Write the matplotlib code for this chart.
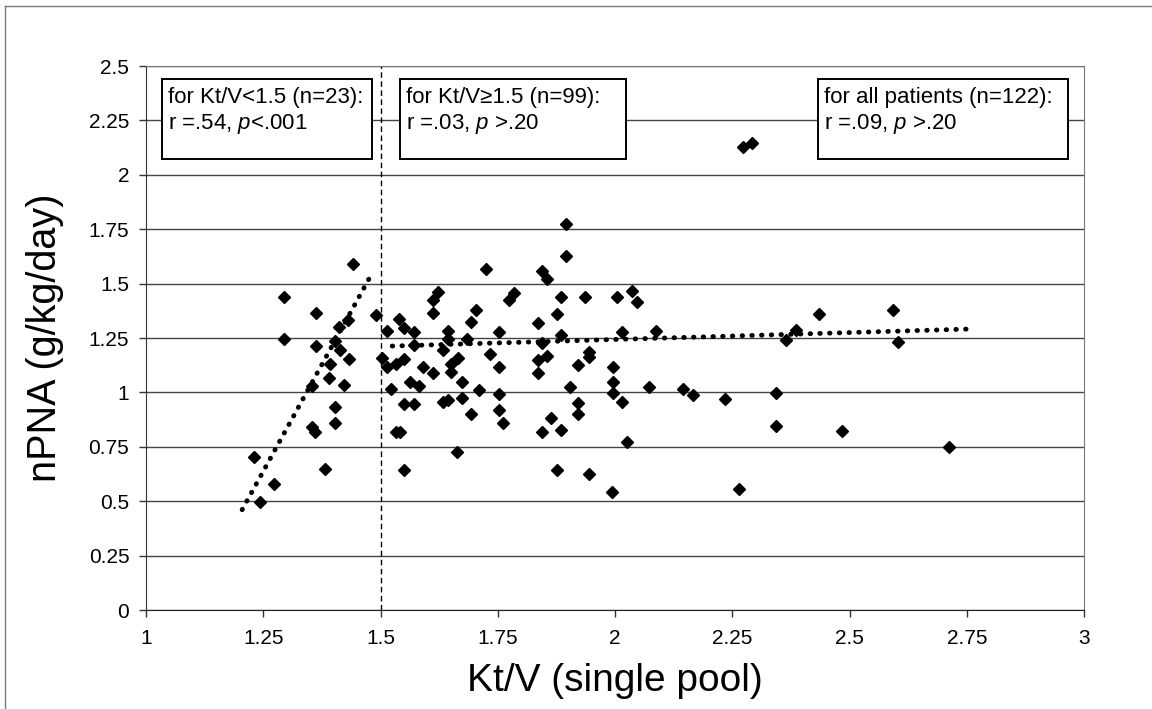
import numpy as np
import matplotlib
matplotlib.use('Agg')
import matplotlib.pyplot as plt
from matplotlib.patches import Rectangle

plt.rcParams['font.family'] = ['Liberation Sans', 'DejaVu Sans']
plt.rcParams['mathtext.fontset'] = 'custom'
plt.rcParams['mathtext.rm'] = 'Liberation Sans'
plt.rcParams['mathtext.it'] = 'Liberation Sans:italic'

# Kt/V < 1.5 group
ktv_low = [1.441, 1.295, 1.363, 1.490, 1.431, 1.412, 1.295, 1.403, 1.363, 1.414,
           1.433, 1.392, 1.391, 1.354, 1.422, 1.403, 1.403, 1.354, 1.361, 1.230,
           1.382, 1.273, 1.243]
npna_low = [1.590, 1.437, 1.364, 1.356, 1.333, 1.299, 1.244, 1.238, 1.213, 1.195,
            1.155, 1.130, 1.068, 1.031, 1.034, 0.934, 0.861, 0.842, 0.820, 0.705,
            0.647, 0.578, 0.496]

# Kt/V >= 1.5 group
ktv_high = [1.513, 1.539, 1.503, 1.513, 1.533, 1.522, 1.533, 1.542, 1.551, 1.663,
            1.876, 1.945, 1.724, 1.845, 1.854, 1.896, 1.623, 1.613, 1.785, 1.775,
            1.885, 1.613, 1.703, 1.876, 1.692, 1.835, 1.550, 1.572, 1.643, 1.753,
            1.885, 1.643, 1.684, 1.845, 1.572, 1.633, 1.734, 1.854, 1.550, 1.665,
            1.835, 1.650, 1.591, 1.753, 1.922, 1.650, 1.613, 1.835, 1.563, 1.673,
            1.583, 1.711, 1.904, 1.753, 1.673, 1.550, 1.572, 1.633, 1.643, 1.922,
            1.753, 1.692, 1.922, 1.762, 1.864, 1.845, 1.885, 1.896, 1.936, 2.005,
            2.036, 2.046, 2.014, 2.087, 1.945, 1.945, 1.995, 1.995, 2.073, 1.995,
            2.146, 2.166, 2.235, 2.014, 2.025, 2.434, 2.593, 2.386, 2.365, 2.603,
            2.343, 2.343, 2.485, 2.713, 2.265, 2.273, 2.292, 1.994]
npna_high = [1.284, 1.336, 1.157, 1.115, 1.129, 1.014, 0.820, 0.820, 0.643, 0.725,
             0.643, 0.625, 1.566, 1.558, 1.520, 1.627, 1.463, 1.425, 1.458, 1.425,
             1.437, 1.364, 1.379, 1.359, 1.325, 1.317, 1.296, 1.276, 1.284, 1.276,
             1.264, 1.244, 1.244, 1.229, 1.216, 1.195, 1.175, 1.167, 1.152, 1.157,
             1.149, 1.129, 1.115, 1.115, 1.124, 1.095, 1.088, 1.088, 1.046, 1.046,
             1.029, 1.011, 1.026, 0.993, 0.973, 0.947, 0.947, 0.954, 0.965, 0.950,
             0.919, 0.901, 0.901, 0.861, 0.881, 0.820, 0.827, 1.772, 1.437, 1.437,
             1.466, 1.417, 1.276, 1.282, 1.187, 1.164, 1.115, 1.048, 1.026, 0.996,
             1.014, 0.988, 0.968, 0.954, 0.770, 1.359, 1.379, 1.287, 1.241, 1.230,
             0.996, 0.847, 0.821, 0.748, 0.557, 2.130, 2.145, 0.540]

# trend lines
trend_low_x = [1.205, 1.478]
trend_low_y = [0.461, 1.532]
trend_high_x = [1.525, 2.751]
trend_high_y = [1.213, 1.291]

box_texts = [
    ("for Kt/V<1.5 (n=23):", "r =.54, $p$<.001"),
    ("for Kt/V\u22651.5 (n=99):", "r =.03, $p$ >.20"),
    ("for all patients (n=122):", "r =.09, $p$ >.20"),
]
box_x = [(1.034, 1.482), (1.541, 2.023), (2.433, 2.966)]

fig = plt.figure(figsize=(11.52, 7.09), dpi=100)
ax = fig.add_axes([146/1152, 99/709, 938/1152, 544/709])

# outer frame of the figure
fig.add_artist(plt.Line2D([5/1152, 5/1152], [0, 703/709], transform=fig.transFigure,
                          color='#777777', lw=1))
fig.add_artist(plt.Line2D([5/1152, 1], [703/709, 703/709], transform=fig.transFigure,
                          color='#777777', lw=1))

ax.set_xlim(1, 3)
ax.set_ylim(0, 2.5)
ax.set_xticks(np.arange(1, 3.01, 0.25))
ax.set_yticks(np.arange(0, 2.51, 0.25))
ax.set_xticklabels(['1', '1.25', '1.5', '1.75', '2', '2.25', '2.5', '2.75', '3'])
ax.set_yticklabels(['0', '0.25', '0.5', '0.75', '1', '1.25', '1.5', '1.75', '2', '2.25', '2.5'])
ax.tick_params(direction='out', length=5, width=1, labelsize=15, color='#333333')
ax.tick_params(axis='x', pad=9)
ax.tick_params(axis='y', pad=7)
ax.yaxis.grid(True, color='#444444', lw=1)
ax.set_axisbelow(True)
for s in ['top', 'right']:
    ax.spines[s].set_color('#777777')
ax.spines['left'].set_color('#333333')
ax.spines['bottom'].set_color('#222222')

ax.axvline(1.5, color='black', lw=1, ls=(0, (4, 2.5)), zorder=2)

ax.plot(trend_low_x, trend_low_y, color='black', lw=3.5, ls=(0, (0.1, 1.9)),
        dash_capstyle='round', zorder=3)
ax.plot(trend_high_x, trend_high_y, color='black', lw=3.5, ls=(0, (0.1, 1.9)),
        dash_capstyle='round', zorder=3)

ax.plot(ktv_low, npna_low, 'D', color='black', ms=5.8, zorder=4)
ax.plot(ktv_high, npna_high, 'D', color='black', ms=5.8, zorder=4)

for (x0, x1), (l1, l2) in zip(box_x, box_texts):
    ax.add_patch(Rectangle((x0, 2.073), x1 - x0, 2.44 - 2.073, facecolor='white',
                           edgecolor='black', lw=1.4, zorder=5))
    ax.text(x0 + 0.013, 2.353, l1, fontsize=16, va='center', ha='left', zorder=6)
    ax.text(x0 + 0.013, 2.235, l2, fontsize=16, va='center', ha='left', zorder=6)

ax.set_xlabel('Kt/V (single pool)', fontsize=28)
ax.set_ylabel('nPNA (g/kg/day)', fontsize=28.5)
ax.xaxis.set_label_coords(0.5, -0.098)
ax.yaxis.set_label_coords(-0.087, 0.5)

fig.savefig('out.png', dpi=100)
